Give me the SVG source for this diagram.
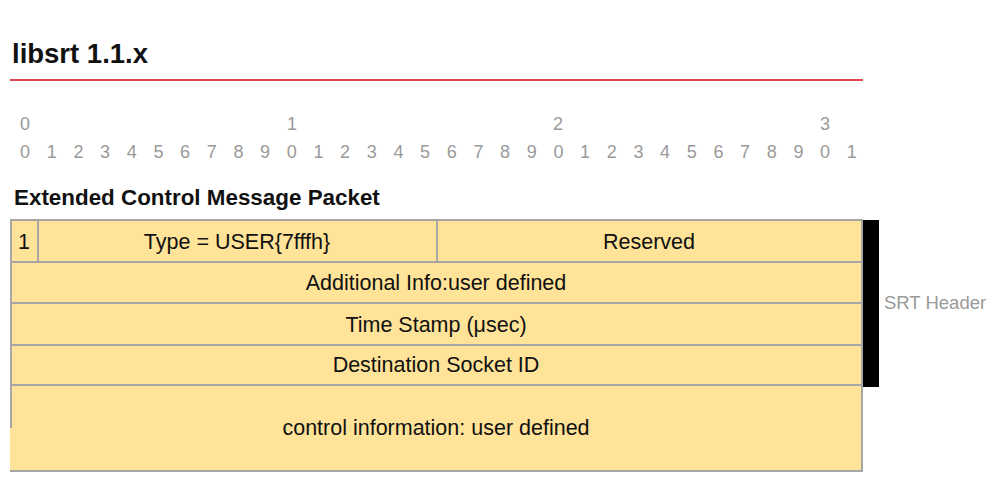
<svg xmlns="http://www.w3.org/2000/svg" width="993" height="485" viewBox="0 0 993 485">
<style>
.t{font-family:"Liberation Sans",Arial,sans-serif;fill:#111}
.h{font-weight:bold}
.r{font-family:"Liberation Sans",Arial,sans-serif;font-size:18px;fill:#9a9a9a;text-anchor:middle}
.c{fill:#FFE398;stroke:#a6a6a6;stroke-width:2}
.l{font-family:"Liberation Sans",Arial,sans-serif;font-size:21.5px;fill:#111;text-anchor:middle}
</style>
<rect width="993" height="485" fill="#fff"/>
<text class="t h" x="12" y="63" font-size="27.5">libsrt 1.1.x</text>
<line x1="10" y1="80" x2="863" y2="80" stroke="#e0474c" stroke-width="2"/>
<g id="ruler">
<text class="r" x="25" y="130">0</text>
<text class="r" x="292" y="130">1</text>
<text class="r" x="558" y="130">2</text>
<text class="r" x="825" y="130">3</text>
<text class="r" y="158"><tspan x="25">0</tspan><tspan x="51.7">1</tspan><tspan x="78.4">2</tspan><tspan x="105">3</tspan><tspan x="131.7">4</tspan><tspan x="158.4">5</tspan><tspan x="185">6</tspan><tspan x="211.7">7</tspan><tspan x="238.4">8</tspan><tspan x="265">9</tspan><tspan x="291.7">0</tspan><tspan x="318.4">1</tspan><tspan x="345">2</tspan><tspan x="371.7">3</tspan><tspan x="398.4">4</tspan><tspan x="425">5</tspan><tspan x="451.7">6</tspan><tspan x="478.4">7</tspan><tspan x="505">8</tspan><tspan x="531.7">9</tspan><tspan x="558.4">0</tspan><tspan x="585">1</tspan><tspan x="611.7">2</tspan><tspan x="638.4">3</tspan><tspan x="665">4</tspan><tspan x="691.7">5</tspan><tspan x="718.4">6</tspan><tspan x="745">7</tspan><tspan x="771.7">8</tspan><tspan x="798.4">9</tspan><tspan x="825">0</tspan><tspan x="851.7">1</tspan></text>
</g>
<text class="t h" x="14" y="205" font-size="22.4">Extended Control Message Packet</text>
<g id="srt-header">
<rect x="863" y="220" width="16" height="167" fill="#000"/>
<text class="t" x="884" y="309" font-size="18.5" style="fill:#9a9a9a">SRT Header</text>
</g>
<g id="payload">
<rect x="10" y="386" width="852" height="85" fill="#FFE398"/>
<line x1="10" y1="471" x2="863" y2="471" stroke="#a6a6a6" stroke-width="2"/>
<line x1="862" y1="386" x2="862" y2="471" stroke="#a6a6a6" stroke-width="2"/>
<line x1="11" y1="386" x2="11" y2="428" stroke="#a6a6a6" stroke-width="2"/>
<text class="l" x="436" y="435">control information: user defined</text>
</g>
<g id="flag">
<rect class="c" x="11" y="220" width="27" height="42"/>
<text class="l" x="24" y="249">1</text>
</g>
<g id="type">
<rect class="c" x="38" y="220" width="399" height="42"/>
<text class="l" x="237" y="249">Type = USER{7fffh}</text>
</g>
<g id="reserved">
<rect class="c" x="437" y="220" width="425" height="42"/>
<text class="l" x="649" y="249">Reserved</text>
</g>
<g id="addinfo">
<rect class="c" x="11" y="262" width="851" height="41"/>
<text class="l" x="436" y="290">Additional Info:user defined</text>
</g>
<g id="timestamp">
<rect class="c" x="11" y="303" width="851" height="42"/>
<text class="l" x="436" y="332">Time Stamp (μsec)</text>
</g>
<g id="dest">
<rect class="c" x="11" y="345" width="851" height="40"/>
<text class="l" x="436" y="372">Destination Socket ID</text>
</g>
<g id="connectors"/>
</svg>
